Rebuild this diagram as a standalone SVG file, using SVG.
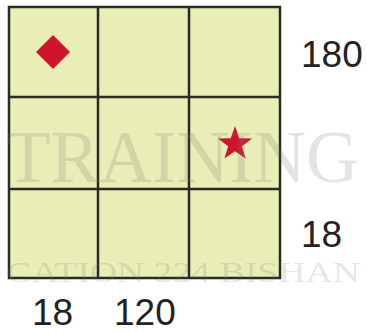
<svg xmlns="http://www.w3.org/2000/svg" width="367" height="332" viewBox="0 0 367 332">
<style>
.cell{fill:#e8eeb5;stroke:none}
.line{stroke:#2b2b26;stroke-width:2.5;fill:none}
.mark{fill:#d0142e}
.lbl{font-family:"Liberation Sans",Arial,sans-serif;font-size:37px;fill:#222}
.wm{font-family:"Liberation Serif","Times New Roman",serif;fill:#7a7a7a;fill-opacity:0.2}
</style>
<rect width="367" height="332" fill="#ffffff"/>
<g id="grid">
<rect class="cell" x="9" y="7" width="271" height="271"/>
<rect class="line" x="9" y="7" width="271" height="271"/>
<line class="line" x1="98" y1="7" x2="98" y2="278"/>
<line class="line" x1="189" y1="7" x2="189" y2="278"/>
<line class="line" x1="9" y1="97" x2="280" y2="97"/>
<line class="line" x1="9" y1="189" x2="280" y2="189"/>
</g>
<g id="diamond">
<polygon class="mark" points="53,35 70,52 53,69 36,52"/>
</g>
<g id="star">
<polygon class="mark" points="235,126 239.23,138.18 252.12,138.44 241.85,146.22 245.58,158.56 235,151.2 224.42,158.56 228.15,146.22 217.88,138.44 230.77,138.18"/>
</g>
<g id="watermark">
<text class="wm" x="6" y="182" font-size="73">TRAINING</text>
<text class="wm" x="6" y="282" font-size="30" textLength="354" lengthAdjust="spacingAndGlyphs">CATION 224 BISHAN</text>
</g>
<g id="labels">
<text class="lbl" x="301" y="67">180</text>
<text class="lbl" x="301" y="247">18</text>
<text class="lbl" x="32" y="325">18</text>
<text class="lbl" x="114" y="325">120</text>
</g>
</svg>
